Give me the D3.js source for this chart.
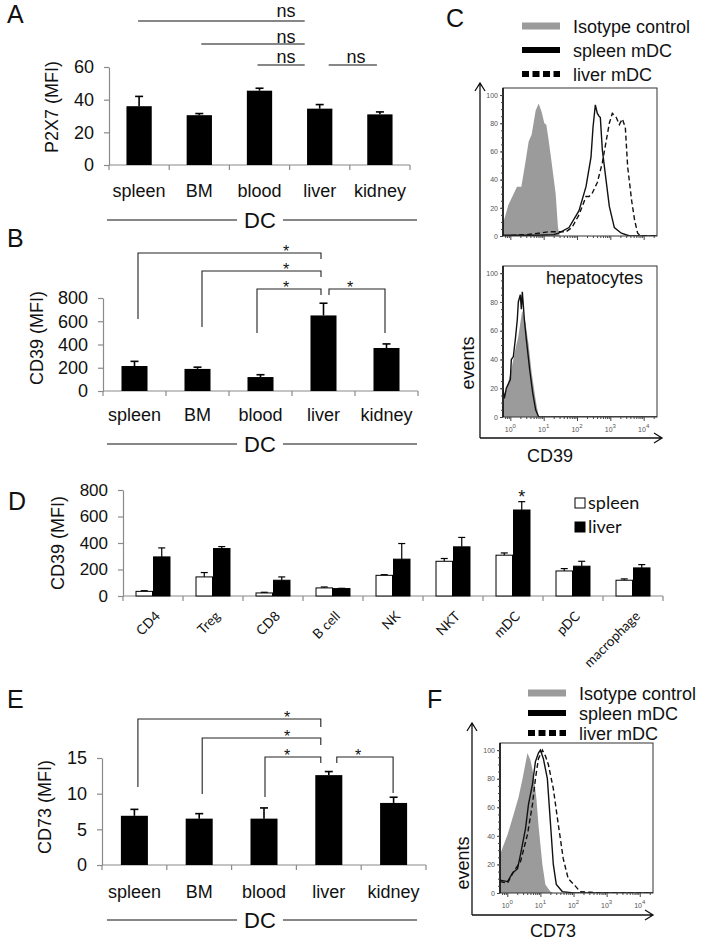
<!DOCTYPE html>
<html><head><meta charset="utf-8">
<script src="https://cdn.jsdelivr.net/npm/d3@7"></script>
<style>body{margin:0;background:#fff;} svg{display:block;}</style>
</head><body>
<svg id="fig" width="702" height="945"></svg>
<script>
// ---------------- DATA ----------------
const dcCategories = ["spleen", "BM", "blood", "liver", "kidney"];
const p2x7Ticks = [0, 20, 40, 60];
const p2x7Means = [36, 30.5, 45.5, 34.5, 31];
const p2x7Errors = [6, 1, 1.5, 2.5, 1.5];
const cd39Ticks = [0, 200, 400, 600, 800];
const cd39Means = [215, 190, 120, 650, 370];
const cd39Errors = [40, 15, 20, 105, 35];
const cd73Ticks = [0, 5, 10, 15];
const cd73Means = [6.9, 6.5, 6.5, 12.6, 8.7];
const cd73Errors = [0.9, 0.7, 1.5, 0.5, 0.8];
const comparisonPairs = [["spleen", "liver"], ["BM", "liver"], ["blood", "liver"], ["liver", "kidney"]];

const cellTypes = ["CD4", "Treg", "CD8", "B cell", "NK", "NKT", "mDC", "pDC", "macrophage"];
const organs = ["spleen", "liver"];
const spleenCD39 = [35, 144, 23, 61, 156, 262, 308, 189, 119];
const spleenCD39Err = [5, 33, 5, 7, 5, 21, 17, 18, 10];
const liverCD39 = [295, 358, 119, 56, 278, 371, 649, 225, 212];
const liverCD39Err = [68, 15, 25, 2, 118, 71, 63, 37, 25];
const significantCellTypes = ["mDC"];

const flowYTicks = [0, 20, 40, 60, 80, 100];
const flowDecades = [0, 1, 2, 3, 4];
const legendLabels = ["Isotype control", "spleen mDC", "liver mDC"];

// histograms: [log10 fluorescence, % of max]
const cd39Isotype = [[-0.22,10],[-0.18,12],[-0.06,22],[0.1,30],[0.2,35],[0.33,35],[0.45,52],[0.55,67],[0.64,72],[0.76,89],[0.85,94],[0.94,88],[1.02,80],[1.08,79],[1.15,68],[1.24,52],[1.36,30],[1.43,6],[1.48,0]];
const cd39SpleenMDC = [[-0.22,0.5],[0.8,0.5],[1.3,1],[1.45,2],[1.76,6],[2.06,18],[2.27,35],[2.42,56],[2.48,77],[2.55,93],[2.61,87],[2.66,85],[2.70,84],[2.76,61],[2.88,38],[2.97,21],[3.12,6],[3.33,2],[3.58,0],[4.4,0]];
const cd39LiverMDC = [[-0.22,0],[0.5,1],[0.85,2],[1.15,3],[1.45,3],[1.67,3],[1.85,6],[2.06,15],[2.27,28],[2.36,28],[2.45,30],[2.61,38],[2.76,52],[2.88,68],[2.97,80],[3.06,87],[3.18,84],[3.27,79],[3.36,83],[3.45,77],[3.52,49],[3.64,25],[3.73,11],[3.82,2],[3.91,0],[4.4,0]];
const cd39HepIsotype = [[-0.22,10],[-0.12,19],[0.03,33],[0.15,47],[0.24,56],[0.33,70],[0.36,74],[0.45,66],[0.55,50],[0.64,31],[0.76,12],[0.85,0],[0.9,0]];
const cd39Hepatocytes = [[-0.22,19],[-0.18,13],[-0.12,20],[0,26],[0.03,40],[0.09,42],[0.15,54],[0.21,68],[0.24,80],[0.3,85],[0.33,75],[0.36,87],[0.42,68],[0.48,54],[0.58,33],[0.67,17],[0.76,5],[0.85,0],[4.4,0]];
const cd73Isotype = [[-0.22,27],[0.01,41],[0.19,55],[0.34,67],[0.46,80],[0.61,98],[0.70,93],[0.79,83],[0.88,66],[0.94,48],[1.06,20],[1.15,6],[1.3,1],[1.39,0]];
const cd73SpleenMDC = [[-0.22,9],[0.01,8],[0.16,14],[0.31,17],[0.40,27],[0.55,45],[0.64,62],[0.76,76],[0.85,92],[0.94,98],[1.0,100],[1.09,94],[1.21,80],[1.30,50],[1.39,20],[1.48,6],[1.66,1],[2.0,0],[4.4,0]];
const cd73LiverMDC = [[-0.22,8],[0.01,7],[0.19,15],[0.40,22],[0.61,41],[0.76,62],[0.85,80],[0.94,94],[1.06,100],[1.15,96],[1.24,90],[1.39,73],[1.54,48],[1.69,24],[1.84,10],[2.05,5],[2.2,1],[2.5,0.5],[2.8,0],[4.4,0]];

// ---------------- DRAWING ----------------
const svg = d3.select("#fig");
const FONT = "'Liberation Sans', Arial, Helvetica, sans-serif";
const NARROW = "Lato, 'Open Sans', sans-serif";
const AXIS_GRAY = "#8a8a8a";

function styleAxis(sel, fontSize, family) {
  sel.select(".domain").attr("stroke", AXIS_GRAY).attr("stroke-width", 1.2);
  sel.selectAll(".tick line").attr("stroke", AXIS_GRAY).attr("stroke-width", 1.2);
  sel.selectAll(".tick text").attr("font-family", family || FONT).attr("font-size", fontSize).attr("fill", "#111");
}

function text(g, x, y, str, size, opts) {
  opts = opts || {};
  return g.append("text").attr("x", x).attr("y", y).text(str)
    .attr("font-family", opts.family || FONT).attr("font-size", size)
    .attr("text-anchor", opts.anchor || "start").attr("fill", opts.fill || "#111");
}

function barPanel(cfg) {
  const g = svg.append("g");
  const x = d3.scaleBand().domain(dcCategories).range(cfg.xRange).paddingInner(cfg.pad).paddingOuter(cfg.pad / 2);
  const y = d3.scaleLinear().domain(cfg.yDomain).range(cfg.yRange);
  const ya = g.append("g").attr("transform", `translate(${cfg.xRange[0]},0)`)
    .call(d3.axisLeft(y).tickValues(cfg.ticks).tickSize(5).tickSizeOuter(0).tickPadding(10));
  styleAxis(ya, 18);
  g.append("line").attr("x1", cfg.xRange[0]).attr("x2", cfg.xRange[1]).attr("y1", y(0)).attr("y2", y(0))
    .attr("stroke", AXIS_GRAY).attr("stroke-width", 1.2);
  const bounds = d3.range(dcCategories.length + 1).map(i => cfg.xRange[0] + i * x.step());
  g.selectAll("line.bt").data(bounds).join("line")
    .attr("x1", d => d).attr("x2", d => d).attr("y1", y(0)).attr("y2", y(0) + 5)
    .attr("stroke", AXIS_GRAY).attr("stroke-width", 1.2);
  const rows = dcCategories.map((c, i) => ({ c, m: cfg.means[i], e: cfg.errors[i] }));
  const cx = c => x(c) + x.bandwidth() / 2;
  g.selectAll("line.err").data(rows).join("line")
    .attr("x1", d => cx(d.c)).attr("x2", d => cx(d.c)).attr("y1", d => y(d.m)).attr("y2", d => y(d.m + d.e))
    .attr("stroke", "#000").attr("stroke-width", 1.6);
  g.selectAll("line.cap").data(rows).join("line")
    .attr("x1", d => cx(d.c) - 4).attr("x2", d => cx(d.c) + 4).attr("y1", d => y(d.m + d.e)).attr("y2", d => y(d.m + d.e))
    .attr("stroke", "#000").attr("stroke-width", 1.6);
  g.selectAll("rect.bar").data(rows).join("rect")
    .attr("x", d => x(d.c)).attr("y", d => y(d.m)).attr("width", x.bandwidth()).attr("height", d => y(0) - y(d.m))
    .attr("fill", "#000");
  g.selectAll("text.cat").data(dcCategories).join("text")
    .attr("x", d => cx(d)).attr("y", cfg.catBaseline).text(d => d)
    .attr("font-family", FONT).attr("font-size", 18).attr("text-anchor", "middle").attr("fill", "#111");
  // DC group line
  g.append("line").attr("x1", 107).attr("x2", 237).attr("y1", cfg.dcY).attr("y2", cfg.dcY).attr("stroke", "#111").attr("stroke-width", 1.2);
  g.append("line").attr("x1", 283).attr("x2", 417).attr("y1", cfg.dcY).attr("y2", cfg.dcY).attr("stroke", "#111").attr("stroke-width", 1.2);
  text(g, 260, cfg.dcY + 8, "DC", 22, { anchor: "middle" });
  // y label
  g.append("text").attr("transform", `translate(${cfg.ylabelX},${cfg.ylabelY}) rotate(-90)`)
    .attr("text-anchor", "middle").attr("dy", "0.35em").text(cfg.ylabel)
    .attr("font-family", FONT).attr("font-size", 18).attr("fill", "#111");
  return { g, x, y, cx };
}

function brackets(p, layout, starSize) {
  comparisonPairs.forEach((pair, i) => {
    const L = layout[i];
    const xa = p.cx(pair[0]) + L.dxA, xb = p.cx(pair[1]) + L.dxB;
    const path = `M${xa},${L.legA}V${L.y}H${xb}V${L.legB}`;
    p.g.append("path").attr("d", path).attr("fill", "none").attr("stroke", "#222").attr("stroke-width", 1.1);
    text(p.g, L.starX, L.y + 4, "*", starSize, { anchor: "middle" });
  });
}

// Panel labels
[["A", 7, 23], ["B", 7, 247], ["C", 446, 27], ["D", 8, 510], ["E", 7, 708], ["F", 427, 708]].forEach(d => {
  text(svg, d[1], d[2], d[0], 25);
});

// ---- Panel A ----
const pA = barPanel({ xRange: [109, 410], pad: 0.58, yDomain: [0, 60], yRange: [165, 67], ticks: p2x7Ticks,
  means: p2x7Means, errors: p2x7Errors, catBaseline: 197, dcY: 220, ylabel: "P2X7 (MFI)", ylabelX: 52, ylabelY: 107 });
const nsLayout = [{ y: 21, dxA: -1, dxB: -15, t: 286, ty: 17 }, { y: 44, dxA: 2, dxB: -15, t: 286, ty: 43 },
  { y: 65, dxA: -2, dxB: -15, t: 286, ty: 63 }, { y: 65, dxA: 9, dxB: -3, t: 356, ty: 63 }];
comparisonPairs.forEach((pair, i) => {
  const L = nsLayout[i];
  pA.g.append("line").attr("x1", pA.cx(pair[0]) + L.dxA).attr("x2", pA.cx(pair[1]) + L.dxB).attr("y1", L.y).attr("y2", L.y)
    .attr("stroke", "#111").attr("stroke-width", 1.2);
  text(pA.g, L.t, L.ty, "ns", 18, { anchor: "middle" });
});

// ---- Panel B ----
const pB = barPanel({ xRange: [103, 418], pad: 0.587, yDomain: [0, 800], yRange: [391, 298], ticks: cd39Ticks,
  means: cd39Means, errors: cd39Errors, catBaseline: 421, dcY: 444, ylabel: "CD39 (MFI)", ylabelX: 37, ylabelY: 338 });
brackets(pB, [
  { y: 253, legA: 319, legB: 259, dxA: 3.5, dxB: -2.5, starX: 286 },
  { y: 271, legA: 327, legB: 277, dxA: 4.5, dxB: -2.5, starX: 286 },
  { y: 289, legA: 333, legB: 295, dxA: -3.5, dxB: -2.5, starX: 286 },
  { y: 289, legA: 295, legB: 333, dxA: 5.5, dxB: -1.5, starX: 350 }], 16);

// ---- Panel E ----
const pE = barPanel({ xRange: [102, 426], pad: 0.583, yDomain: [0, 15], yRange: [865, 758], ticks: cd73Ticks,
  means: cd73Means, errors: cd73Errors, catBaseline: 898, dcY: 920, ylabel: "CD73 (MFI)", ylabelX: 45, ylabelY: 807 });
brackets(pE, [
  { y: 719, legA: 787, legB: 727, dxA: 3.5, dxB: -8, starX: 287 },
  { y: 738, legA: 794, legB: 745, dxA: 3, dxB: -8, starX: 287 },
  { y: 757, legA: 797, legB: 763, dxA: 1, dxB: -8, starX: 287 },
  { y: 757, legA: 763, legB: 793, dxA: 8, dxB: -0.5, starX: 358 }], 16);

// ---- Panel D ----
(function () {
  const g = svg.append("g");
  const x = d3.scaleBand().domain(cellTypes).range([123, 663]).paddingInner(0.417).paddingOuter(0.2085);
  const xs = d3.scaleBand().domain(organs).range([0, x.bandwidth()]);
  const y = d3.scaleLinear().domain([0, 800]).range([596, 490]);
  const ya = g.append("g").attr("transform", "translate(123,0)")
    .call(d3.axisLeft(y).tickValues(cd39Ticks).tickSize(5).tickSizeOuter(0).tickPadding(10));
  styleAxis(ya, 17);
  g.append("line").attr("x1", 123).attr("x2", 663).attr("y1", y(0)).attr("y2", y(0)).attr("stroke", AXIS_GRAY).attr("stroke-width", 1.2);
  const bounds = d3.range(cellTypes.length + 1).map(i => 123 + i * x.step());
  g.selectAll("line.bt").data(bounds).join("line")
    .attr("x1", d => d).attr("x2", d => d).attr("y1", y(0)).attr("y2", y(0) + 5).attr("stroke", AXIS_GRAY).attr("stroke-width", 1.2);
  const rows = [];
  cellTypes.forEach((c, i) => {
    rows.push({ c, o: "spleen", m: spleenCD39[i], e: spleenCD39Err[i] });
    rows.push({ c, o: "liver", m: liverCD39[i], e: liverCD39Err[i] });
  });
  const cx = d => x(d.c) + xs(d.o) + xs.bandwidth() / 2;
  g.selectAll("line.err").data(rows).join("line")
    .attr("x1", cx).attr("x2", cx).attr("y1", d => y(d.m)).attr("y2", d => y(d.m + d.e)).attr("stroke", "#000").attr("stroke-width", 1.2);
  g.selectAll("line.cap").data(rows).join("line")
    .attr("x1", d => cx(d) - 3.5).attr("x2", d => cx(d) + 3.5).attr("y1", d => y(d.m + d.e)).attr("y2", d => y(d.m + d.e))
    .attr("stroke", "#000").attr("stroke-width", 1.2);
  g.selectAll("rect.bar").data(rows).join("rect")
    .attr("x", d => x(d.c) + xs(d.o) + 0.5).attr("y", d => y(d.m)).attr("width", xs.bandwidth() - 1).attr("height", d => y(0) - y(d.m))
    .attr("fill", d => d.o === "spleen" ? "#fff" : "#000").attr("stroke", "#000").attr("stroke-width", 1);
  g.selectAll("text.cat").data(cellTypes).join("text")
    .attr("transform", d => `translate(${x(d) + x.bandwidth() / 2 + 8},${617}) rotate(-45)`)
    .attr("text-anchor", "end").text(d => d)
    .attr("font-family", NARROW).attr("font-size", 13.5).attr("fill", "#111");
  significantCellTypes.forEach(c => {
    const i = cellTypes.indexOf(c);
    const d = { c, o: "liver" };
    text(g, cx(d), y(liverCD39[i] + liverCD39Err[i]) + 1, "*", 18, { anchor: "middle" });
  });
  g.append("text").attr("transform", "translate(58,543) rotate(-90)").attr("text-anchor", "middle").attr("dy", "0.35em")
    .text("CD39 (MFI)").attr("font-family", FONT).attr("font-size", 18).attr("fill", "#111");
  // legend
  organs.forEach((o, i) => {
    const ly = 503 + i * 24;
    g.append("rect").attr("x", 575).attr("y", ly - 5).attr("width", 10).attr("height", 10)
      .attr("fill", o === "spleen" ? "#fff" : "#000").attr("stroke", "#000").attr("stroke-width", 1);
    text(g, 588, ly + 6, o, 18, { family: NARROW });
  });
})();

// ---- Flow histograms ----
function flowPlot(box, series, showXLabels) {
  const g = svg.append("g");
  const xs = d3.scaleLinear().domain([-0.22, 4.4]).range([box.x0, box.x1]);
  const ys = d3.scaleLinear().domain([0, 105]).range([box.y1, box.y0]);
  const id = "clip" + Math.round(box.y0);
  g.append("clipPath").attr("id", id).append("rect").attr("x", box.x0).attr("y", box.y0)
    .attr("width", box.x1 - box.x0).attr("height", box.y1 - box.y0);
  const body = g.append("g").attr("clip-path", `url(#${id})`);
  series.forEach(s => {
    if (s.type === "fill") {
      body.append("path").datum(s.data)
        .attr("d", d3.area().x(d => xs(d[0])).y0(ys(0)).y1(d => ys(d[1])))
        .attr("fill", "#9b9b9b").attr("stroke", "none");
    } else {
      body.append("path").datum(s.data)
        .attr("d", d3.line().x(d => xs(d[0])).y(d => ys(d[1])))
        .attr("fill", "none").attr("stroke", "#111").attr("stroke-width", 1.4)
        .attr("stroke-dasharray", s.type === "dashed" ? "5,3" : null);
    }
  });
  g.append("rect").attr("x", box.x0).attr("y", box.y0).attr("width", box.x1 - box.x0).attr("height", box.y1 - box.y0)
    .attr("fill", "none").attr("stroke", "#333").attr("stroke-width", 1);
  g.append("line").attr("x1", box.x0).attr("x2", box.x0).attr("y1", box.y0).attr("y2", box.y1).attr("stroke", "#111").attr("stroke-width", 1.6);
  const ya = g.append("g").attr("transform", `translate(${box.x0},0)`)
    .call(d3.axisLeft(ys).tickValues(flowYTicks).tickSize(3).tickSizeOuter(0).tickPadding(2));
  ya.select(".domain").remove();
  ya.selectAll(".tick line").attr("stroke", "#444");
  ya.selectAll(".tick text").attr("font-family", FONT).attr("font-size", 7).attr("fill", "#555");
  const ym = g.append("g").attr("transform", `translate(${box.x0},0)`)
    .call(d3.axisLeft(ys).tickValues(d3.range(0, 101, 5)).tickSize(2).tickFormat(""));
  ym.select(".domain").remove();
  ym.selectAll(".tick line").attr("stroke", "#444");
  const minors = [];
  flowDecades.forEach(k => d3.range(2, 10).forEach(m => { const v = k + Math.log10(m); if (v < 4.4) minors.push(v); }));
  minors.push(Math.log10(0.7), Math.log10(0.8), Math.log10(0.9));
  const xm = g.append("g").attr("transform", `translate(0,${box.y1})`)
    .call(d3.axisBottom(xs).tickValues(minors.filter(v => v >= -0.22)).tickSize(2).tickFormat(""));
  xm.select(".domain").remove();
  xm.selectAll(".tick line").attr("stroke", "#444");
  const xa = g.append("g").attr("transform", `translate(0,${box.y1})`)
    .call(d3.axisBottom(xs).tickValues(flowDecades).tickSize(4).tickFormat(""));
  xa.select(".domain").remove();
  xa.selectAll(".tick line").attr("stroke", "#444");
  if (showXLabels) {
    flowDecades.forEach(k => {
      const t = g.append("text").attr("x", xs(k)).attr("y", box.y1 + 15).attr("text-anchor", "middle")
        .attr("font-family", FONT).attr("font-size", 7).attr("fill", "#555");
      t.append("tspan").text("10");
      t.append("tspan").attr("dy", -4).attr("font-size", 6).text(String(k));
    });
  }
  return g;
}

function arrowAxes(x0, yTop, yBottom, xRight) {
  const g = svg.append("g").attr("stroke", "#111").attr("stroke-width", 1.3).attr("fill", "none");
  g.append("path").attr("d", `M${x0},${yBottom}V${yTop}M${x0 - 5},${yTop + 8}L${x0},${yTop}L${x0 + 5},${yTop + 8}`);
  g.append("path").attr("d", `M${x0},${yBottom}H${xRight}M${xRight - 8},${yBottom - 5}L${xRight},${yBottom}L${xRight - 8},${yBottom + 5}`);
}

function flowLegend(x0, yCenters) {
  const g = svg.append("g");
  g.append("line").attr("x1", x0).attr("x2", x0 + 38).attr("y1", yCenters[0]).attr("y2", yCenters[0]).attr("stroke", "#9b9b9b").attr("stroke-width", 7);
  g.append("line").attr("x1", x0).attr("x2", x0 + 38).attr("y1", yCenters[1]).attr("y2", yCenters[1]).attr("stroke", "#000").attr("stroke-width", 6);
  g.append("line").attr("x1", x0).attr("x2", x0 + 38).attr("y1", yCenters[2]).attr("y2", yCenters[2]).attr("stroke", "#000").attr("stroke-width", 6).attr("stroke-dasharray", "7,3.5");
  legendLabels.forEach((l, i) => text(g, x0 + 51, yCenters[i] + 6.5, l, 18));
}

// Panel C
flowLegend(522, [26, 50, 74]);
flowPlot({ x0: 503, x1: 657, y0: 88, y1: 236 }, [
  { data: cd39Isotype, type: "fill" }, { data: cd39SpleenMDC, type: "solid" }, { data: cd39LiverMDC, type: "dashed" }], false);
const hep = flowPlot({ x0: 503, x1: 657, y0: 266, y1: 417 }, [
  { data: cd39HepIsotype, type: "fill" }, { data: cd39Hepatocytes, type: "solid" }], true);
text(hep, 546, 284, "hepatocytes", 18);
arrowAxes(480, 83, 438, 662);
svg.append("text").attr("transform", "translate(468,363) rotate(-90)").attr("text-anchor", "middle").attr("dy", "0.35em")
  .text("events").attr("font-family", FONT).attr("font-size", 18).attr("fill", "#111");
text(svg, 550, 462, "CD39", 18, { anchor: "middle" });

// Panel F
flowLegend(528, [693, 713, 733]);
flowPlot({ x0: 500, x1: 653, y0: 743, y1: 893 }, [
  { data: cd73Isotype, type: "fill" }, { data: cd73SpleenMDC, type: "solid" }, { data: cd73LiverMDC, type: "dashed" }], true);
arrowAxes(472, 723, 915, 653);
svg.append("text").attr("transform", "translate(463,863) rotate(-90)").attr("text-anchor", "middle").attr("dy", "0.35em")
  .text("events").attr("font-family", FONT).attr("font-size", 18).attr("fill", "#111");
text(svg, 553, 937, "CD73", 18, { anchor: "middle" });
</script>
</body></html>
